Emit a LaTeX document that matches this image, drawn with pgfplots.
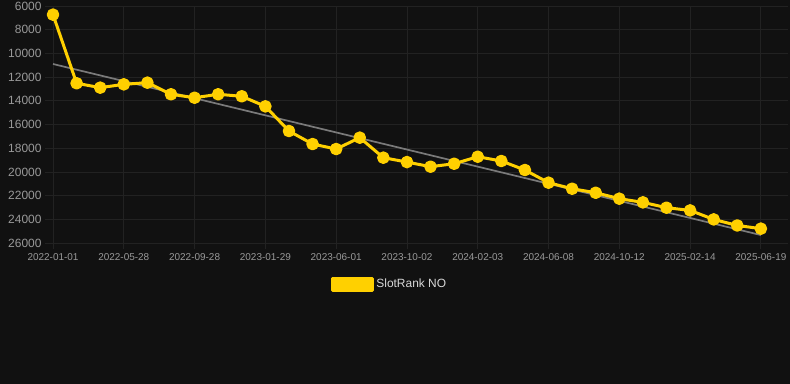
\documentclass[border=0pt]{standalone}
\usepackage{fontspec}
\setmainfont{Liberation Sans}
\usepackage{pgfplots}
\pgfplotsset{compat=1.18}
\definecolor{bg}{HTML}{111111}
\definecolor{yel}{HTML}{FFD000}
\definecolor{trend}{HTML}{7A7A7A}
\definecolor{gridc}{HTML}{222222}
\definecolor{tickc}{HTML}{999999}
\definecolor{legtext}{HTML}{D8D8D8}
\begin{document}
\begin{tikzpicture}
\fill[bg] (0bp,0bp) rectangle (790bp,384bp);
\useasboundingbox (0bp,0bp) rectangle (790bp,384bp);
\begin{axis}[
  at={(45bp,141bp)}, anchor=south west,
  scale only axis, width=743bp, height=237bp,
  xmin=-0.34, xmax=31.15, ymin=6000, ymax=26000,
  y dir=reverse,
  scaled y ticks=false,
  axis line style={draw=none},
  xtick={0,3,...,30},
  xticklabels={2022-01-01,2022-05-28,2022-09-28,2023-01-29,2023-06-01,2023-10-02,2024-02-03,2024-06-08,2024-10-12,2025-02-14,2025-06-19},
  ytick={6000,8000,...,26000},
  grid=major,
  major grid style={draw=gridc, line width=0.8bp},
  x tick style={draw=gridc, line width=0.8bp},
  y tick style={draw=none},
  major tick length=6bp,
  tick align=outside,
  xtick pos=bottom, ytick pos=left,
  ticklabel style={text=tickc},
  xticklabel style={font=\fontsize{10}{12}\selectfont, yshift=-1bp},
  yticklabel style={font=\fontsize{12}{14}\selectfont, xshift=6bp},
  /pgf/number format/assume math mode=true,
  /pgf/number format/1000 sep={},
  legend style={at={(axis description cs:0.464,-0.173)}, anchor=center, draw=none, fill=none, text=legtext, font=\fontsize{12}{14}\selectfont},
  clip=false,
]
\addplot[trend, line width=1.7bp, forget plot] coordinates {(0,10895) (30,25330)};
\addplot[yel, line width=3bp, line join=round, mark=*, mark size=4.8bp, mark options={solid, fill=yel, draw=none},
  legend image code/.code={\fill[yel] (0bp,-6bp) rectangle (40bp,6bp);}] coordinates {
(0,6730) (1,12520) (2,12890) (3,12610) (4,12470) (5,13450) (6,13740) (7,13450) (8,13620) (9,14470)
(10,16550) (11,17650) (12,18070) (13,17110) (14,18800) (15,19170) (16,19560) (17,19310) (18,18720) (19,19080)
(20,19840) (21,20910) (22,21420) (23,21760) (24,22260) (25,22570) (26,23020) (27,23250) (28,24010) (29,24520) (30,24790)
};
\addlegendentry{SlotRank NO}
\end{axis}
\end{tikzpicture}
\end{document}
